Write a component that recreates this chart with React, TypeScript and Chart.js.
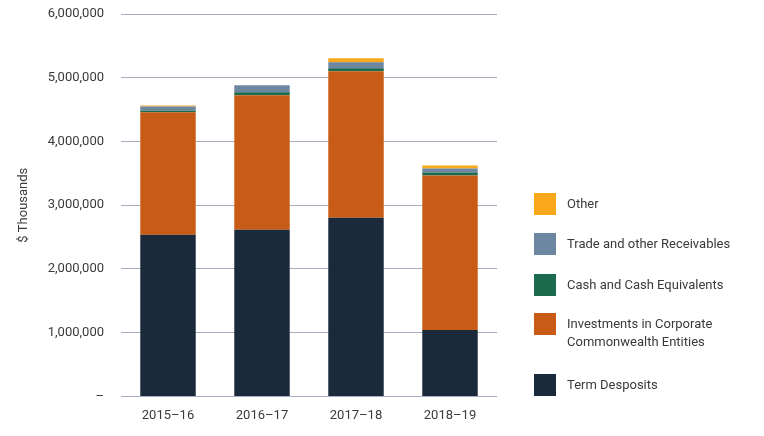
import React, { useEffect, useRef } from 'react';
import { Chart, registerables } from 'chart.js';

Chart.register(...registerables);

const years = ['2015–16', '2016–17', '2017–18', '2018–19'];

// values in $ thousands, bottom of stack first
const termDeposits = [2535000, 2614000, 2803000, 1040000];
const investments = [1922000, 2110000, 2299000, 2425000];
const cashEquivalents = [30000, 47000, 47000, 47000];
const receivables = [63000, 110000, 94000, 63000];
const other = [15000, 0, 63000, 47000];

const seriesNames = [
    'Term Desposits',
    'Investments in Corporate Commonwealth Entities',
    'Cash and Cash Equivalents',
    'Trade and other Receivables',
    'Other',
];
const seriesColors = ['#1B2A3A', '#C85C17', '#1C6B4E', '#6E87A0', '#F9A81B'];

// legend shown top-down, with manual line breaks
const legendItems = [
    { label: ['Other'], color: seriesColors[4], top: 193 },
    { label: ['Trade and other Receivables'], color: seriesColors[3], top: 233 },
    { label: ['Cash and Cash Equivalents'], color: seriesColors[2], top: 274 },
    { label: ['Investments in Corporate', 'Commonwealth Entities'], color: seriesColors[1], top: 313 },
    { label: ['Term Desposits'], color: seriesColors[0], top: 374 },
];

const FONT = 'Roboto, "Noto Sans", sans-serif';
const TEXT = '#3a3a3a';

const App: React.FC = () => {
    const canvasRef = useRef<HTMLCanvasElement | null>(null);
    const chartRef = useRef<Chart | null>(null);

    useEffect(() => {
        document.body.style.margin = '0';
        const ctx = canvasRef.current?.getContext('2d');
        if (!ctx) return;
        if (chartRef.current) chartRef.current.destroy();

        const values = [termDeposits, investments, cashEquivalents, receivables, other];

        chartRef.current = new Chart(ctx, {
            type: 'bar',
            data: {
                labels: years,
                datasets: values.map((data, i) => ({
                    label: seriesNames[i],
                    data,
                    backgroundColor: seriesColors[i],
                    borderWidth: 0,
                    categoryPercentage: 1,
                    barPercentage: 0.59,
                })),
            },
            options: {
                animation: false,
                responsive: true,
                maintainAspectRatio: false,
                layout: { padding: { top: 14, right: 267, bottom: 0, left: 0 } },
                plugins: {
                    legend: { display: false },
                    tooltip: { enabled: false },
                },
                scales: {
                    x: {
                        stacked: true,
                        grid: { display: false, drawTicks: false },
                        border: { display: false },
                        ticks: {
                            color: TEXT,
                            padding: 12,
                            font: { family: FONT, size: 13 },
                        },
                    },
                    y: {
                        stacked: true,
                        min: 0,
                        max: 6000000,
                        // fixed axis width; drop the label overflow padding so the plot reaches y=14
                        afterFit: (scale: any) => {
                            scale.width = 121;
                            scale.paddingTop = 0;
                            scale.paddingBottom = 0;
                        },
                        grid: { color: '#A7AFBC', lineWidth: 1, drawTicks: false },
                        border: { display: false },
                        ticks: {
                            stepSize: 1000000,
                            color: TEXT,
                            padding: 17,
                            font: { family: FONT, size: 13 },
                            callback: (v: any) => (Number(v) === 0 ? '–' : Number(v).toLocaleString('en-US')),
                        },
                        title: {
                            display: true,
                            text: '$ Thousands',
                            color: TEXT,
                            padding: { top: 16, bottom: 0 },
                            font: { family: FONT, size: 13 },
                        },
                    },
                },
            },
        });

        return () => {
            if (chartRef.current) {
                chartRef.current.destroy();
                chartRef.current = null;
            }
        };
    }, []);

    return (
        <div style={{ position: 'relative', width: 764, height: 436, background: '#fff' }}>
            <div style={{ position: 'absolute', left: 0, top: 0, width: 764, height: 436 }}>
                <canvas ref={canvasRef} />
            </div>
            {legendItems.map((item) => (
                <div key={item.label.join(' ')} style={{ position: 'absolute', left: 534, top: item.top }}>
                    <div style={{ position: 'absolute', left: 0, top: 0, width: 22, height: 22, background: item.color }} />
                    <div
                        style={{
                            position: 'absolute',
                            left: 33,
                            top: 2,
                            whiteSpace: 'nowrap',
                            fontFamily: FONT,
                            fontSize: 13,
                            lineHeight: '18px',
                            color: TEXT,
                        }}
                    >
                        {item.label.map((line) => (
                            <div key={line}>{line}</div>
                        ))}
                    </div>
                </div>
            ))}
        </div>
    );
};

export default App;
